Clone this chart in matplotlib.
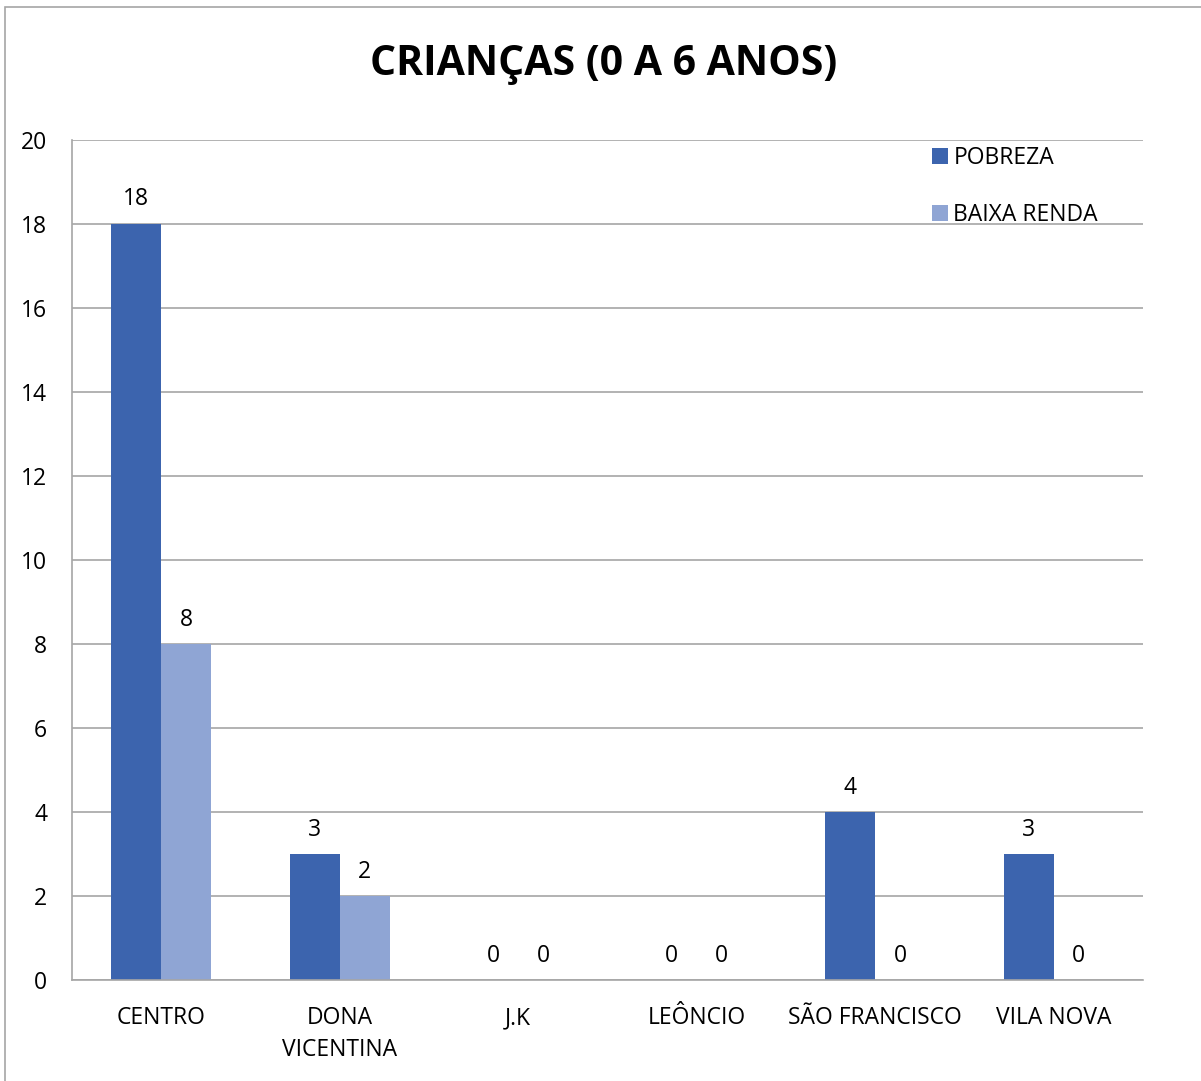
import numpy as np
import matplotlib
matplotlib.use("Agg")
import matplotlib.pyplot as plt
from matplotlib.patches import Rectangle

plt.rcParams['font.family'] = ['Open Sans', 'DejaVu Sans']

# dados
bairros = ["CENTRO", "DONA\nVICENTINA", "J.K", "LEÔNCIO", "SÃO FRANCISCO", "VILA NOVA"]
pobreza = [18, 3, 0, 0, 4, 3]
baixa_renda = [8, 2, 0, 0, 0, 0]
yticks = [0, 2, 4, 6, 8, 10, 12, 14, 16, 18, 20]

cor_pobreza = "#3C64AE"
cor_baixa = "#8FA5D4"

fig = plt.figure(figsize=(12.01, 10.81), dpi=100)
ax = fig.add_axes([0.06, 0.0934, 0.8917, 0.7771])

x = np.arange(len(bairros))
w = 0.28
b1 = ax.bar(x - w / 2, pobreza, w, color=cor_pobreza, label="POBREZA")
b2 = ax.bar(x + w / 2, baixa_renda, w, color=cor_baixa, label="BAIXA RENDA")

for bars, vals in [(b1, pobreza), (b2, baixa_renda)]:
    for rect, v in zip(bars, vals):
        ax.annotate(str(v), (rect.get_x() + rect.get_width() / 2, v),
                    xytext=(0, 9), textcoords="offset points",
                    ha="center", va="bottom", fontsize=16.5)

ax.set_xlim(-0.5, len(bairros) - 0.5)
ax.set_ylim(0, 20)
ax.set_yticks(yticks)
ax.set_xticks(x)
ax.set_xticklabels(bairros, fontsize=16.5, linespacing=1.4)
ax.tick_params(axis="y", labelsize=16.5, length=0, pad=18)
ax.tick_params(axis="x", length=0, pad=19)
ax.grid(axis="y", color="#A6A6A6", linewidth=1.2)
ax.set_axisbelow(True)
for s in ["top", "right"]:
    ax.spines[s].set_visible(False)
ax.spines["left"].set_color("#A6A6A6")
ax.spines["bottom"].set_color("#A6A6A6")
ax.spines["left"].set_linewidth(1.2)
ax.spines["bottom"].set_linewidth(1.2)

fig.text(0.503, 0.9405, "CRIANÇAS (0 A 6 ANOS)", ha="center", va="center",
         fontsize=29.5, fontweight="bold")

leg = fig.legend(loc="upper left", bbox_to_anchor=(0.768, 0.8735), frameon=False,
                 fontsize=16.5, handlelength=0.7, handleheight=0.7,
                 handletextpad=0.25, labelspacing=1.45, borderaxespad=0)

fig.add_artist(Rectangle((0.0045, -0.1), 1.2, 1.0935, transform=fig.transFigure,
                         fill=False, edgecolor="#A6A6A6", linewidth=1.2))

fig.savefig("out.png", dpi=100)
